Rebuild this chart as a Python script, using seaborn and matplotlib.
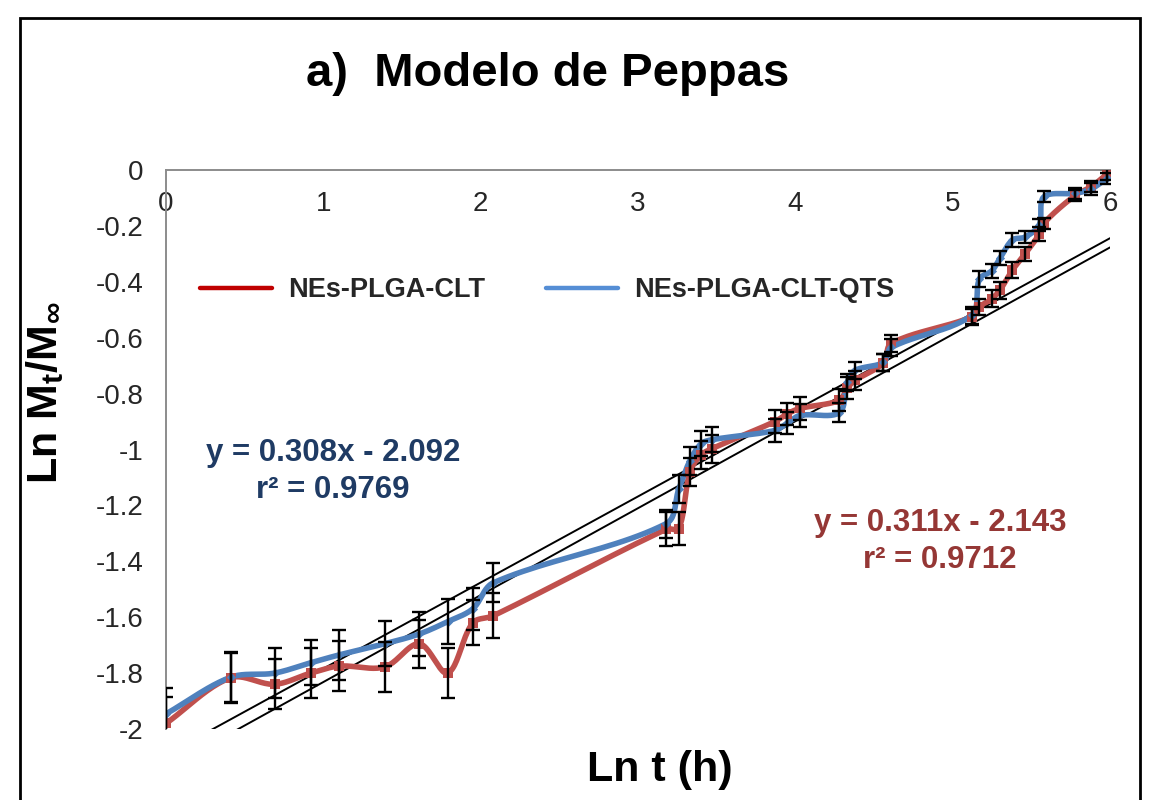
import numpy as np
import pandas as pd
import matplotlib
matplotlib.use("Agg")
import matplotlib.pyplot as plt
from matplotlib.lines import Line2D
from matplotlib.patches import Rectangle
import seaborn as sns

# ---- data -------------------------------------------------------------
ln_t = [0.00, 0.41, 0.69, 0.92, 1.10, 1.39, 1.61, 1.79, 1.95, 2.08,
        3.18, 3.26, 3.33, 3.40, 3.47, 3.87, 3.95, 4.03, 4.28, 4.33,
        4.38, 4.56, 4.61, 5.12, 5.17, 5.25, 5.30, 5.38, 5.46, 5.55,
        5.58, 5.78, 5.88, 5.98]

clt = [-1.980, -1.817, -1.840, -1.800, -1.775, -1.778, -1.695, -1.800, -1.620, -1.595,
       -1.285, -1.283, -1.080, -1.020, -0.997, -0.900, -0.872, -0.853, -0.824, -0.780,
       -0.753, -0.690, -0.620, -0.526, -0.490, -0.460, -0.430, -0.358, -0.300, -0.230,
       -0.190, -0.090, -0.060, -0.015]
clt_err = [0.095, 0.09, 0.09, 0.09, 0.09, 0.09, 0.085, 0.09, 0.08, 0.08,
           0.06, 0.06, 0.05, 0.05, 0.05, 0.04, 0.04, 0.04, 0.04, 0.04,
           0.035, 0.03, 0.03, 0.03, 0.03, 0.03, 0.03, 0.03, 0.025, 0.025,
           0.02, 0.02, 0.02, 0.02]

qts = [-1.946, -1.815, -1.800, -1.763, -1.735, -1.695, -1.660, -1.616, -1.570, -1.477,
       -1.265, -1.140, -1.040, -0.980, -0.965, -0.932, -0.905, -0.878, -0.868, -0.760,
       -0.717, -0.688, -0.635, -0.520, -0.390, -0.360, -0.316, -0.250, -0.240, -0.197,
       -0.096, -0.083, -0.068, -0.030]
qts_err = [0.093, 0.09, 0.09, 0.08, 0.09, 0.08, 0.08, 0.08, 0.075, 0.07,
           0.05, 0.05, 0.05, 0.045, 0.045, 0.04, 0.04, 0.04, 0.035, 0.03,
           0.03, 0.03, 0.03, 0.03, 0.03, 0.025, 0.025, 0.025, 0.02, 0.02,
           0.02, 0.02, 0.02, 0.02]

series_names = ["NEs-PLGA-CLT", "NEs-PLGA-CLT-QTS"]
trend_slope = [0.311, 0.308]
trend_intercept = [-2.143, -2.092]
trend_r2 = [0.9712, 0.9769]

x_ticks = [0, 1, 2, 3, 4, 5, 6]
y_ticks = [0, -0.2, -0.4, -0.6, -0.8, -1, -1.2, -1.4, -1.6, -1.8, -2]
y_tick_labels = ["0", "-0.2", "-0.4", "-0.6", "-0.8", "-1", "-1.2", "-1.4",
                 "-1.6", "-1.8", "-2"]

# ---- style ------------------------------------------------------------
sns.set_theme(style="white")
plt.rcParams["font.family"] = ["Liberation Sans", "DejaVu Sans"]
plt.rcParams["mathtext.fontset"] = "custom"
plt.rcParams["mathtext.rm"] = "Liberation Sans:bold"
plt.rcParams["mathtext.it"] = "Liberation Sans:bold"
plt.rcParams["mathtext.bf"] = "Liberation Sans:bold"

RED = "#C0504D"
BLUE = "#4F81BD"


def smooth_curve(x, y, n=24, sx=157.3, sy=279.0):
    """Bezier-smoothed path through the points (chord-length weighted tangents)."""
    p = np.column_stack([np.asarray(x, float) * sx, np.asarray(y, float) * sy])
    m = len(p)
    d = np.linalg.norm(np.diff(p, axis=0), axis=1)
    tang = np.zeros_like(p)
    for i in range(m):
        if i == 0:
            tang[i] = (p[1] - p[0]) / max(d[0], 1e-9)
        elif i == m - 1:
            tang[i] = (p[-1] - p[-2]) / max(d[-1], 1e-9)
        else:
            tang[i] = (p[i + 1] - p[i - 1]) / max(d[i - 1] + d[i], 1e-9)
    t = np.linspace(0, 1, n)[:, None]
    segs = []
    for i in range(m - 1):
        c1 = p[i] + tang[i] * d[i] / 3
        c2 = p[i + 1] - tang[i + 1] * d[i] / 3
        seg = ((1 - t) ** 3) * p[i] + 3 * ((1 - t) ** 2) * t * c1 \
            + 3 * (1 - t) * t ** 2 * c2 + t ** 3 * p[i + 1]
        segs.append(seg if i == 0 else seg[1:])
    out = np.vstack(segs)
    return out[:, 0] / sx, out[:, 1] / sy


fig = plt.figure(figsize=(11.51, 8.0), dpi=100)
ax = fig.add_axes([166 / 1151, 1 - 729 / 800, (1110 - 166) / 1151, (729 - 170) / 800])

# trend lines
xs = np.array([0.0, 6.0])
for s, b in zip(trend_slope, trend_intercept):
    ax.plot(xs, s * xs + b, color="black", lw=1.4, zorder=2)

# smoothed series
for yv, col in [(clt, RED), (qts, BLUE)]:
    sxv, syv = smooth_curve(ln_t, yv)
    df = pd.DataFrame({"x": sxv, "y": syv})
    sns.lineplot(data=df, x="x", y="y", ax=ax, color=col, lw=4.0,
                 sort=False, estimator=None, zorder=3)

sns.scatterplot(x=ln_t, y=clt, ax=ax, marker="s", s=60, color=RED,
                edgecolor=RED, linewidth=0, zorder=4)
sns.scatterplot(x=ln_t, y=qts, ax=ax, marker="D", s=22, color=BLUE,
                edgecolor=BLUE, linewidth=0, zorder=4)

# error bars
for yv, ev in [(qts, qts_err), (clt, clt_err)]:
    ax.errorbar(ln_t, yv, yerr=ev, fmt="none", ecolor="black",
                elinewidth=1.7, capsize=4.8, capthick=1.7, zorder=5)

ax.set_xlim(0, 6)
ax.set_ylim(-2, 0)
ax.set_xlabel("")
ax.set_ylabel("")

ax.set_xticks(x_ticks)
ax.set_xticklabels([str(v) for v in x_ticks])
ax.set_yticks(y_ticks)
ax.set_yticklabels(y_tick_labels)
ax.tick_params(axis="x", bottom=False, top=False, labelbottom=False,
               labeltop=True, length=0, pad=-34, labelsize=20)
ax.tick_params(axis="y", left=False, length=0, pad=16, labelsize=20)

for side in ["right", "bottom"]:
    ax.spines[side].set_visible(False)
for side in ["left", "top"]:
    ax.spines[side].set_visible(True)
    ax.spines[side].set_color("#8C8C8C")
    ax.spines[side].set_linewidth(1.4)

# legend
handles = [Line2D([0], [0], color="#C00000", lw=3.2),
           Line2D([0], [0], color="#558ED5", lw=3.2)]
leg = fig.legend(handles, series_names, loc="center left",
                 bbox_to_anchor=(200 / 1151, 1 - 290 / 800), ncol=2,
                 frameon=False, borderpad=0, borderaxespad=0,
                 handlelength=2.65, handletextpad=0.6, columnspacing=2.25,
                 prop={"family": "Liberation Sans", "weight": "bold", "size": 19.5})

# equations
fig.text(333 / 1151, 1 - 453 / 800,
         f"y = {trend_slope[1]:.3f}x - {abs(trend_intercept[1]):.3f}",
         ha="center", va="center", fontsize=22.5, fontweight="bold", color="#1F3B64")
fig.text(333 / 1151, 1 - 490 / 800, f"r² = {trend_r2[1]:.4f}",
         ha="center", va="center", fontsize=22.5, fontweight="bold", color="#1F3B64")
fig.text(940 / 1151, 1 - 523 / 800,
         f"y = {trend_slope[0]:.3f}x - {abs(trend_intercept[0]):.3f}",
         ha="center", va="center", fontsize=22.5, fontweight="bold", color="#953735")
fig.text(940 / 1151, 1 - 560 / 800, f"r² = {trend_r2[0]:.4f}",
         ha="center", va="center", fontsize=22.5, fontweight="bold", color="#953735")

# title and axis titles
fig.text(548 / 1151, 1 - 74 / 800, "a)  Modelo de Peppas", ha="center", va="center",
         fontsize=34, fontweight="bold", color="black")
fig.text(660 / 1151, 1 - 770 / 800, "Ln t (h)", ha="center", va="center",
         fontsize=31, fontweight="bold", color="black")
fig.text(45 / 1151, 1 - 393 / 800, r"Ln M$_{t}$/M$_{\infty}$", ha="center", va="center",
         rotation=90, fontsize=31, fontweight="bold", color="black")

# chart frame
fig.add_artist(Rectangle((20 / 1151, -0.05), (1140 - 20) / 1151, 1 - 18 / 800 + 0.05,
                         transform=fig.transFigure, fill=False, lw=2.0,
                         edgecolor="black", zorder=10))

fig.savefig("out.png", dpi=100)
